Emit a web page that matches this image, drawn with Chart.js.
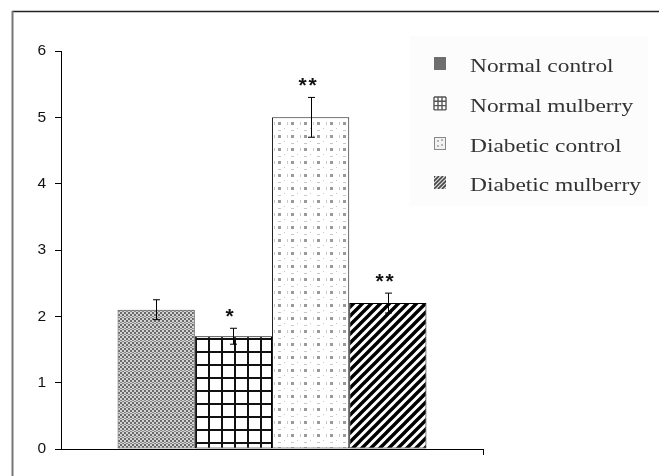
<!DOCTYPE html>
<html>
<head>
<meta charset="utf-8">
<script src="https://cdn.jsdelivr.net/npm/chart.js@4"></script>
<style>
  html, body { margin: 0; padding: 0; background: #fff; }
  #wrap { width: 659px; height: 476px; }
</style>
</head>
<body>
<div id="wrap"><canvas id="c" width="659" height="476"></canvas></div>
<script>
// Group names, mean values, error (SD) and significance marks
const groups = ['Normal control', 'Normal mulberry', 'Diabetic control', 'Diabetic mulberry'];
const values = [2.1, 1.7, 5.0, 2.2];
const errors = [0.15, 0.12, 0.3, 0.15];
const marks = ['', '*', '**', '**'];
const yTicks = [0, 1, 2, 3, 4, 5, 6];

// ---- fill patterns ----
function tile(w, h, draw) {
  const cv = document.createElement('canvas');
  cv.width = w; cv.height = h;
  const g = cv.getContext('2d');
  draw(g, w, h);
  return cv;
}
const ctx = document.getElementById('c').getContext('2d');

const checkerTile = tile(4, 6, (g) => {
  g.fillStyle = '#d4d4d4'; g.fillRect(0, 0, 4, 6);
  g.fillStyle = '#6a6a6a';
  g.fillRect(0, 0, 2, 2); g.fillRect(2, 2, 2, 2);
  g.fillStyle = '#888';
  g.fillRect(0, 4, 2, 1); g.fillRect(2, 5, 2, 1);
});
const gridTile = tile(13, 13, (g) => {
  g.fillStyle = '#fff'; g.fillRect(0, 0, 13, 13);
  g.fillStyle = '#111';
  g.fillRect(0, 0, 2, 13); g.fillRect(0, 0, 13, 2);
});
const dotTile = tile(13, 13, (g) => {
  g.fillStyle = '#fff'; g.fillRect(0, 0, 13, 13);
  g.fillStyle = '#9a9a9a'; g.fillRect(5, 5, 3, 3);
  g.fillStyle = '#c8c8c8';
  g.fillRect(1, 5, 1, 3); g.fillRect(5, 0, 3, 1); g.fillRect(11, 11, 1, 1);
});
const hatchTile = tile(9, 9, (g) => {
  g.fillStyle = '#fff'; g.fillRect(0, 0, 9, 9);
  g.strokeStyle = '#000'; g.lineWidth = 3.4;
  g.beginPath();
  g.moveTo(-2, 11); g.lineTo(11, -2);
  g.moveTo(-11, 11); g.lineTo(2, -2);
  g.moveTo(7, 11); g.lineTo(20, -2);
  g.stroke();
});
const fills = [
  ctx.createPattern(checkerTile, 'repeat'),
  ctx.createPattern(gridTile, 'repeat'),
  ctx.createPattern(dotTile, 'repeat'),
  ctx.createPattern(hatchTile, 'repeat')
];
const edges = ['#444', '#000', '#222', '#000'];

// ---- frame, axis end tick, error bars, significance marks ----
const decorations = {
  id: 'decorations',
  afterDatasetsDraw(chart) {
    const c = chart.ctx;
    const ys = chart.scales.y;
    const area = chart.chartArea;
    c.save();
    // frame lines
    c.strokeStyle = '#222'; c.lineWidth = 1.5;
    c.beginPath(); c.moveTo(12, 11.5); c.lineTo(659, 11.5); c.stroke();
    c.strokeStyle = '#777'; c.lineWidth = 2;
    c.beginPath(); c.moveTo(12.5, 11); c.lineTo(12.5, 476); c.stroke();
    // tick at right end of the category axis
    c.strokeStyle = '#000'; c.lineWidth = 1;
    c.beginPath(); c.moveTo(Math.round(area.right) + 0.5, area.bottom); c.lineTo(Math.round(area.right) + 0.5, area.bottom + 6); c.stroke();

    values.forEach((v, i) => {
      const bar = chart.getDatasetMeta(i).data[0];
      const x = Math.round(bar.x) + 0.5;
      const top = ys.getPixelForValue(v + errors[i]);
      const bot = ys.getPixelForValue(v - errors[i]);
      c.strokeStyle = '#000'; c.lineWidth = 1;
      c.beginPath();
      c.moveTo(x, top); c.lineTo(x, bot);
      c.moveTo(x - 3.5, top); c.lineTo(x + 3.5, top);
      c.moveTo(x - 3.5, bot); c.lineTo(x + 3.5, bot);
      c.stroke();
      if (marks[i]) {
        // each star drawn separately, 10px apart
        c.fillStyle = '#111';
        c.font = 'bold 21px "Liberation Sans", Arial, sans-serif';
        c.textAlign = 'center'; c.textBaseline = 'middle';
        const n = marks[i].length;
        for (let k = 0; k < n; k++) {
          c.fillText('*', x - 4 + (k - (n - 1) / 2) * 10, top - 11);
        }
      }
    });
    c.restore();
  }
};

// ---- legend panel ----
const legendPanel = {
  id: 'legendPanel',
  afterDraw(chart) {
    const c = chart.ctx;
    c.save();
    c.filter = 'blur(0.6px)';
    c.fillStyle = 'rgba(0,0,0,0.012)';
    c.fillRect(410, 36, 238, 170);
    const rows = [64, 104, 144, 183];
    groups.forEach((name, i) => {
      const y = rows[i];
      const bx = 434, by = y - 7, bw = 12, bh = 13;
      if (i === 0) {
        c.fillStyle = '#6e6e6e'; c.fillRect(bx, by, bw, bh);
      } else if (i === 1) {
        c.fillStyle = '#fff'; c.fillRect(bx, by, bw, bh);
        c.strokeStyle = '#555'; c.lineWidth = 1.4;
        c.beginPath();
        for (let k = 0; k <= 3; k++) {
          c.moveTo(bx + k * 4, by); c.lineTo(bx + k * 4, by + bh);
          c.moveTo(bx, by + k * 4.3); c.lineTo(bx + bw, by + k * 4.3);
        }
        c.stroke();
      } else if (i === 2) {
        c.fillStyle = '#f2f2f2'; c.fillRect(bx, by, bw, bh);
        c.fillStyle = '#b4b4b4';
        c.fillRect(bx + 3, by + 3, 2, 2); c.fillRect(bx + 7, by + 7, 2, 2);
        c.fillRect(bx + 7, by + 2, 2, 2); c.fillRect(bx + 3, by + 8, 2, 2);
        c.strokeStyle = '#888'; c.lineWidth = 1; c.strokeRect(bx + 0.5, by + 0.5, bw - 1, bh - 1);
      } else {
        c.fillStyle = '#d8d8d8'; c.fillRect(bx, by, bw, bh);
        c.save();
        c.beginPath(); c.rect(bx, by, bw, bh); c.clip();
        c.strokeStyle = '#444'; c.lineWidth = 1.6;
        c.beginPath();
        for (let k = -16; k < 16; k += 4) { c.moveTo(bx + k, by + bh); c.lineTo(bx + k + bh, by); }
        c.stroke();
        c.restore();
      }
      // legend labels: tall serif face, set slightly wide
      c.save();
      c.translate(470, y + 3);
      c.scale(1.3, 1);
      c.fillStyle = '#333';
      c.font = '18px "Liberation Serif", "Times New Roman", serif';
      c.textAlign = 'left'; c.textBaseline = 'middle';
      c.fillText(name, 0, 0);
      c.restore();
    });
    c.restore();
  }
};

new Chart(document.getElementById('c'), {
  type: 'bar',
  data: {
    labels: [''],
    datasets: groups.map((g, i) => ({
      label: g,
      data: [values[i]],
      backgroundColor: fills[i],
      borderColor: edges[i],
      borderWidth: 1,
      borderSkipped: false,
      categoryPercentage: 0.732,
      barPercentage: 1
    }))
  },
  options: {
    responsive: false,
    animation: false,
    devicePixelRatio: 1,
    layout: { padding: { left: 0, top: 51, right: 176, bottom: 27 } },
    plugins: { legend: { display: false }, tooltip: { enabled: false } },
    scales: {
      x: {
        grid: { display: false },
        ticks: { display: false },
        border: { color: '#000', width: 1 },
        afterFit(s) { s.height = 0; }
      },
      y: {
        min: 0, max: 6,
        afterBuildTicks(s) { s.ticks = yTicks.map(v => ({ value: v })); },
        ticks: {
          color: '#111',
          padding: 9,
          font: { family: '"Liberation Sans", Arial, sans-serif', size: 15.5 }
        },
        grid: { drawOnChartArea: false, drawTicks: true, tickLength: 6, color: '#000' },
        border: { color: '#000', width: 1 },
        afterFit(s) { s.width = 61; }
      }
    }
  },
  plugins: [decorations, legendPanel]
});
</script>
</body>
</html>
